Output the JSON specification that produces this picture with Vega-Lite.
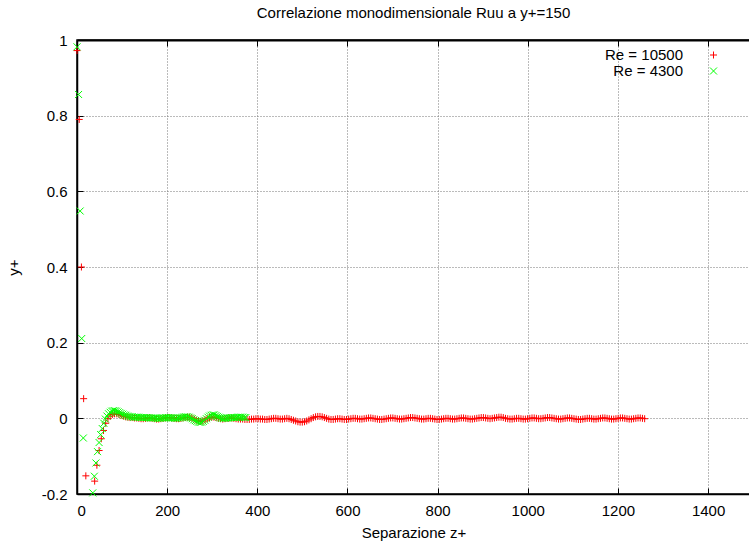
{
  "$schema": "https://vega.github.io/schema/vega-lite/v6.json",
  "width": 673,
  "height": 454,
  "autosize": {"type": "none"},
  "padding": {"left": 77, "top": 40, "right": 0, "bottom": 50},
  "background": "white",
  "config": {
    "font": "Liberation Sans",
    "view": {"stroke": "black", "strokeWidth": 1.5},
    "axis": {"labelFont": "Liberation Sans", "titleFont": "Liberation Sans", "labelColor": "black", "titleColor": "black", "domainColor": "black", "domainWidth": 1.5, "tickColor": "black", "tickWidth": 1, "labelFontSize": 15, "titleFontSize": 15, "titleFontWeight": "normal"}
  },
  "title": {"text": "Correlazione monodimensionale Ruu a y+=150", "fontSize": 15, "fontWeight": "normal", "font": "Liberation Sans", "color": "black", "offset": 12, "frame": "group"},
  "datasets": {
    "d": [
      {"s":"10500","z":0,"r":0.972},{"s":"10500","z":4.9,"r":0.79},{"s":"10500","z":9.8,"r":0.4},{"s":"10500","z":14.7,"r":0.052},{"s":"10500","z":19.6,"r":-0.152},{"s":"10500","z":24.5,"r":-0.245},{"s":"10500","z":29.4,"r":-0.262},{"s":"10500","z":34.3,"r":-0.215},{"s":"10500","z":39.2,"r":-0.166},{"s":"10500","z":44.1,"r":-0.124},
      {"s":"10500","z":49,"r":-0.085},{"s":"10500","z":53.9,"r":-0.054},{"s":"10500","z":58.8,"r":-0.032},{"s":"10500","z":63.7,"r":-0.013},{"s":"10500","z":68.6,"r":-0.001},{"s":"10500","z":73.5,"r":0.006},{"s":"10500","z":78.4,"r":0.01},{"s":"10500","z":83.3,"r":0.012},{"s":"10500","z":88.2,"r":0.012},{"s":"10500","z":93.1,"r":0.01},
      {"s":"10500","z":98,"r":0.008},{"s":"10500","z":102.9,"r":0.006},{"s":"10500","z":107.8,"r":0.004},{"s":"10500","z":112.7,"r":0.003},{"s":"10500","z":117.6,"r":0.002},{"s":"10500","z":122.5,"r":0.002},{"s":"10500","z":127.4,"r":0.001},{"s":"10500","z":132.3,"r":0.001},{"s":"10500","z":137.2,"r":0},{"s":"10500","z":142.1,"r":-0.001},
      {"s":"10500","z":147,"r":-0.001},{"s":"10500","z":151.9,"r":0},{"s":"10500","z":156.8,"r":0.001},{"s":"10500","z":161.7,"r":0.001},{"s":"10500","z":166.6,"r":0},{"s":"10500","z":171.5,"r":-0.001},{"s":"10500","z":176.4,"r":-0.002},{"s":"10500","z":181.3,"r":-0.002},{"s":"10500","z":186.2,"r":-0.001},{"s":"10500","z":191.1,"r":0},
      {"s":"10500","z":196,"r":0.001},{"s":"10500","z":200.9,"r":0.002},{"s":"10500","z":205.8,"r":0.002},{"s":"10500","z":210.7,"r":0.001},{"s":"10500","z":215.6,"r":0},{"s":"10500","z":220.5,"r":-0.001},{"s":"10500","z":225.4,"r":-0.001},{"s":"10500","z":230.3,"r":0},{"s":"10500","z":235.2,"r":0.001},{"s":"10500","z":240.1,"r":0.002},
      {"s":"10500","z":245,"r":0.003},{"s":"10500","z":249.9,"r":0.003},{"s":"10500","z":254.8,"r":0.001},{"s":"10500","z":259.7,"r":-0.002},{"s":"10500","z":264.6,"r":-0.005},{"s":"10500","z":269.5,"r":-0.007},{"s":"10500","z":274.4,"r":-0.008},{"s":"10500","z":279.3,"r":-0.007},{"s":"10500","z":284.2,"r":-0.004},{"s":"10500","z":289.1,"r":-0.001},
      {"s":"10500","z":294,"r":0.002},{"s":"10500","z":298.9,"r":0.003},{"s":"10500","z":303.8,"r":0.003},{"s":"10500","z":308.7,"r":0.002},{"s":"10500","z":313.6,"r":0},{"s":"10500","z":318.5,"r":-0.001},{"s":"10500","z":323.4,"r":-0.002},{"s":"10500","z":328.3,"r":-0.001},{"s":"10500","z":333.2,"r":0},{"s":"10500","z":338.1,"r":0.001},
      {"s":"10500","z":343,"r":0.001},{"s":"10500","z":347.9,"r":0},{"s":"10500","z":352.8,"r":-0.001},{"s":"10500","z":357.7,"r":-0.002},{"s":"10500","z":362.6,"r":-0.002},{"s":"10500","z":367.5,"r":-0.002},{"s":"10500","z":372.4,"r":-0.003},{"s":"10500","z":377.3,"r":-0.003},{"s":"10500","z":382.2,"r":-0.003},{"s":"10500","z":387.1,"r":-0.002},
      {"s":"10500","z":392,"r":-0.002},{"s":"10500","z":396.9,"r":-0.001},{"s":"10500","z":401.8,"r":-0.001},{"s":"10500","z":406.7,"r":-0.002},{"s":"10500","z":411.6,"r":-0.002},{"s":"10500","z":416.5,"r":-0.003},{"s":"10500","z":421.4,"r":-0.003},{"s":"10500","z":426.3,"r":-0.002},{"s":"10500","z":431.2,"r":-0.001},{"s":"10500","z":436.1,"r":0},
      {"s":"10500","z":441,"r":0},{"s":"10500","z":445.9,"r":-0.001},{"s":"10500","z":450.8,"r":-0.002},{"s":"10500","z":455.7,"r":-0.002},{"s":"10500","z":460.6,"r":-0.001},{"s":"10500","z":465.5,"r":0},{"s":"10500","z":470.4,"r":-0.001},{"s":"10500","z":475.3,"r":-0.003},{"s":"10500","z":480.2,"r":-0.005},{"s":"10500","z":485.1,"r":-0.007},
      {"s":"10500","z":490,"r":-0.009},{"s":"10500","z":494.9,"r":-0.01},{"s":"10500","z":499.8,"r":-0.01},{"s":"10500","z":504.7,"r":-0.009},{"s":"10500","z":509.6,"r":-0.007},{"s":"10500","z":514.5,"r":-0.004},{"s":"10500","z":519.4,"r":-0.001},{"s":"10500","z":524.3,"r":0.002},{"s":"10500","z":529.2,"r":0.004},{"s":"10500","z":534.1,"r":0.005},
      {"s":"10500","z":539,"r":0.005},{"s":"10500","z":543.9,"r":0.004},{"s":"10500","z":548.8,"r":0.002},{"s":"10500","z":553.7,"r":0},{"s":"10500","z":558.6,"r":-0.002},{"s":"10500","z":563.5,"r":-0.003},{"s":"10500","z":568.4,"r":-0.003},{"s":"10500","z":573.3,"r":-0.002},{"s":"10500","z":578.2,"r":-0.001},{"s":"10500","z":583.1,"r":-0.001},
      {"s":"10500","z":588,"r":-0.002},{"s":"10500","z":592.9,"r":-0.003},{"s":"10500","z":597.8,"r":-0.003},{"s":"10500","z":602.7,"r":-0.002},{"s":"10500","z":607.6,"r":-0.001},{"s":"10500","z":612.5,"r":0},{"s":"10500","z":617.4,"r":0},{"s":"10500","z":622.3,"r":-0.001},{"s":"10500","z":627.2,"r":-0.002},{"s":"10500","z":632.1,"r":-0.002},
      {"s":"10500","z":637,"r":-0.001},{"s":"10500","z":641.9,"r":0},{"s":"10500","z":646.8,"r":0.001},{"s":"10500","z":651.7,"r":0.001},{"s":"10500","z":656.6,"r":0},{"s":"10500","z":661.5,"r":-0.001},{"s":"10500","z":666.4,"r":-0.002},{"s":"10500","z":671.3,"r":-0.003},{"s":"10500","z":676.2,"r":-0.003},{"s":"10500","z":681.1,"r":-0.002},
      {"s":"10500","z":686,"r":-0.001},{"s":"10500","z":690.9,"r":0},{"s":"10500","z":695.8,"r":0.001},{"s":"10500","z":700.7,"r":0.001},{"s":"10500","z":705.6,"r":0},{"s":"10500","z":710.5,"r":-0.001},{"s":"10500","z":715.4,"r":-0.002},{"s":"10500","z":720.3,"r":-0.002},{"s":"10500","z":725.2,"r":-0.001},{"s":"10500","z":730.1,"r":0},
      {"s":"10500","z":735,"r":0.001},{"s":"10500","z":739.9,"r":0.002},{"s":"10500","z":744.8,"r":0.002},{"s":"10500","z":749.7,"r":0.001},{"s":"10500","z":754.6,"r":0},{"s":"10500","z":759.5,"r":-0.001},{"s":"10500","z":764.4,"r":-0.002},{"s":"10500","z":769.3,"r":-0.002},{"s":"10500","z":774.2,"r":-0.001},{"s":"10500","z":779.1,"r":0},
      {"s":"10500","z":784,"r":0},{"s":"10500","z":788.9,"r":-0.001},{"s":"10500","z":793.8,"r":-0.002},{"s":"10500","z":798.7,"r":-0.003},{"s":"10500","z":803.6,"r":-0.003},{"s":"10500","z":808.5,"r":-0.002},{"s":"10500","z":813.4,"r":-0.001},{"s":"10500","z":818.3,"r":0},{"s":"10500","z":823.2,"r":0},{"s":"10500","z":828.1,"r":-0.001},
      {"s":"10500","z":833,"r":-0.002},{"s":"10500","z":837.9,"r":-0.002},{"s":"10500","z":842.8,"r":-0.001},{"s":"10500","z":847.7,"r":0},{"s":"10500","z":852.6,"r":0.001},{"s":"10500","z":857.5,"r":0.001},{"s":"10500","z":862.4,"r":0},{"s":"10500","z":867.3,"r":-0.001},{"s":"10500","z":872.2,"r":-0.002},{"s":"10500","z":877.1,"r":-0.002},
      {"s":"10500","z":882,"r":-0.001},{"s":"10500","z":886.9,"r":0},{"s":"10500","z":891.8,"r":0.001},{"s":"10500","z":896.7,"r":0.002},{"s":"10500","z":901.6,"r":0.002},{"s":"10500","z":906.5,"r":0.001},{"s":"10500","z":911.4,"r":0},{"s":"10500","z":916.3,"r":-0.001},{"s":"10500","z":921.2,"r":0},{"s":"10500","z":926.1,"r":0.001},
      {"s":"10500","z":931,"r":0.002},{"s":"10500","z":935.9,"r":0.003},{"s":"10500","z":940.8,"r":0.003},{"s":"10500","z":945.7,"r":0.002},{"s":"10500","z":950.6,"r":0},{"s":"10500","z":955.5,"r":-0.001},{"s":"10500","z":960.4,"r":-0.002},{"s":"10500","z":965.3,"r":-0.002},{"s":"10500","z":970.2,"r":-0.001},{"s":"10500","z":975.1,"r":0},
      {"s":"10500","z":980,"r":0},{"s":"10500","z":984.9,"r":-0.001},{"s":"10500","z":989.8,"r":-0.002},{"s":"10500","z":994.7,"r":-0.002},{"s":"10500","z":999.6,"r":-0.001},{"s":"10500","z":1004.5,"r":0},{"s":"10500","z":1009.4,"r":0.001},{"s":"10500","z":1014.3,"r":0.001},{"s":"10500","z":1019.2,"r":0},{"s":"10500","z":1024.1,"r":-0.001},
      {"s":"10500","z":1029,"r":-0.001},{"s":"10500","z":1033.9,"r":0},{"s":"10500","z":1038.8,"r":0.001},{"s":"10500","z":1043.7,"r":0.002},{"s":"10500","z":1048.6,"r":0.002},{"s":"10500","z":1053.5,"r":0.001},{"s":"10500","z":1058.4,"r":0},{"s":"10500","z":1063.3,"r":-0.001},{"s":"10500","z":1068.2,"r":-0.002},{"s":"10500","z":1073.1,"r":-0.002},
      {"s":"10500","z":1078,"r":-0.001},{"s":"10500","z":1082.9,"r":0},{"s":"10500","z":1087.8,"r":0.001},{"s":"10500","z":1092.7,"r":0.001},{"s":"10500","z":1097.6,"r":0},{"s":"10500","z":1102.5,"r":-0.001},{"s":"10500","z":1107.4,"r":-0.002},{"s":"10500","z":1112.3,"r":-0.003},{"s":"10500","z":1117.2,"r":-0.003},{"s":"10500","z":1122.1,"r":-0.002},
      {"s":"10500","z":1127,"r":-0.001},{"s":"10500","z":1131.9,"r":0},{"s":"10500","z":1136.8,"r":0},{"s":"10500","z":1141.7,"r":-0.001},{"s":"10500","z":1146.6,"r":-0.002},{"s":"10500","z":1151.5,"r":-0.002},{"s":"10500","z":1156.4,"r":-0.001},{"s":"10500","z":1161.3,"r":0},{"s":"10500","z":1166.2,"r":0.001},{"s":"10500","z":1171.1,"r":0.001},
      {"s":"10500","z":1176,"r":0},{"s":"10500","z":1180.9,"r":-0.001},{"s":"10500","z":1185.8,"r":-0.002},{"s":"10500","z":1190.7,"r":-0.002},{"s":"10500","z":1195.6,"r":-0.001},{"s":"10500","z":1200.5,"r":0},{"s":"10500","z":1205.4,"r":0.001},{"s":"10500","z":1210.3,"r":0.001},{"s":"10500","z":1215.2,"r":0},{"s":"10500","z":1220.1,"r":-0.001},
      {"s":"10500","z":1225,"r":-0.002},{"s":"10500","z":1229.9,"r":-0.002},{"s":"10500","z":1234.8,"r":-0.001},{"s":"10500","z":1239.7,"r":0},{"s":"10500","z":1244.6,"r":0.001},{"s":"10500","z":1249.5,"r":0.001},{"s":"10500","z":1254.4,"r":0},{"s":"10500","z":1259.3,"r":-0.001},
      {"s":"4300","z":0,"r":0.982},{"s":"4300","z":3.5,"r":0.856},{"s":"4300","z":7,"r":0.548},{"s":"4300","z":10.5,"r":0.211},{"s":"4300","z":14,"r":-0.052},{"s":"4300","z":17.5,"r":-0.21},{"s":"4300","z":21,"r":-0.285},{"s":"4300","z":24.5,"r":-0.3},{"s":"4300","z":28,"r":-0.275},{"s":"4300","z":31.5,"r":-0.235},
      {"s":"4300","z":35,"r":-0.197},{"s":"4300","z":38.5,"r":-0.153},{"s":"4300","z":42,"r":-0.118},{"s":"4300","z":45.5,"r":-0.088},{"s":"4300","z":49,"r":-0.064},{"s":"4300","z":52.5,"r":-0.043},{"s":"4300","z":56,"r":-0.027},{"s":"4300","z":59.5,"r":-0.013},{"s":"4300","z":63,"r":-0.002},{"s":"4300","z":66.5,"r":0.006},
      {"s":"4300","z":70,"r":0.012},{"s":"4300","z":73.5,"r":0.016},{"s":"4300","z":77,"r":0.019},{"s":"4300","z":80.5,"r":0.02},{"s":"4300","z":84,"r":0.02},{"s":"4300","z":87.5,"r":0.019},{"s":"4300","z":91,"r":0.017},{"s":"4300","z":94.5,"r":0.015},{"s":"4300","z":98,"r":0.013},{"s":"4300","z":101.5,"r":0.011},
      {"s":"4300","z":105,"r":0.009},{"s":"4300","z":108.5,"r":0.008},{"s":"4300","z":112,"r":0.006},{"s":"4300","z":115.5,"r":0.005},{"s":"4300","z":119,"r":0.004},{"s":"4300","z":122.5,"r":0.004},{"s":"4300","z":126,"r":0.003},{"s":"4300","z":129.5,"r":0.003},{"s":"4300","z":133,"r":0.003},{"s":"4300","z":136.5,"r":0.003},
      {"s":"4300","z":140,"r":0.002},{"s":"4300","z":143.5,"r":0.002},{"s":"4300","z":147,"r":0.002},{"s":"4300","z":150.5,"r":0.002},{"s":"4300","z":154,"r":0.002},{"s":"4300","z":157.5,"r":0.002},{"s":"4300","z":161,"r":0.001},{"s":"4300","z":164.5,"r":0.001},{"s":"4300","z":168,"r":0.001},{"s":"4300","z":171.5,"r":0.001},
      {"s":"4300","z":175,"r":0.001},{"s":"4300","z":178.5,"r":0},{"s":"4300","z":182,"r":0},{"s":"4300","z":185.5,"r":0},{"s":"4300","z":189,"r":0.001},{"s":"4300","z":192.5,"r":0.001},{"s":"4300","z":196,"r":0.002},{"s":"4300","z":199.5,"r":0.002},{"s":"4300","z":203,"r":0.002},{"s":"4300","z":206.5,"r":0.002},
      {"s":"4300","z":210,"r":0.001},{"s":"4300","z":213.5,"r":0.001},{"s":"4300","z":217,"r":0},{"s":"4300","z":220.5,"r":0},{"s":"4300","z":224,"r":0.001},{"s":"4300","z":227.5,"r":0.001},{"s":"4300","z":231,"r":0.002},{"s":"4300","z":234.5,"r":0.003},{"s":"4300","z":238,"r":0.004},{"s":"4300","z":241.5,"r":0.004},
      {"s":"4300","z":245,"r":0.004},{"s":"4300","z":248.5,"r":0.003},{"s":"4300","z":252,"r":0.001},{"s":"4300","z":255.5,"r":-0.001},{"s":"4300","z":259,"r":-0.004},{"s":"4300","z":262.5,"r":-0.006},{"s":"4300","z":266,"r":-0.008},{"s":"4300","z":269.5,"r":-0.01},{"s":"4300","z":273,"r":-0.011},{"s":"4300","z":276.5,"r":-0.01},
      {"s":"4300","z":280,"r":-0.008},{"s":"4300","z":283.5,"r":-0.005},{"s":"4300","z":287,"r":-0.001},{"s":"4300","z":290.5,"r":0.003},{"s":"4300","z":294,"r":0.006},{"s":"4300","z":297.5,"r":0.008},{"s":"4300","z":301,"r":0.009},{"s":"4300","z":304.5,"r":0.009},{"s":"4300","z":308,"r":0.007},{"s":"4300","z":311.5,"r":0.005},
      {"s":"4300","z":315,"r":0.003},{"s":"4300","z":318.5,"r":0.001},{"s":"4300","z":322,"r":0},{"s":"4300","z":325.5,"r":0},{"s":"4300","z":329,"r":0},{"s":"4300","z":332.5,"r":0.001},{"s":"4300","z":336,"r":0.001},{"s":"4300","z":339.5,"r":0.002},{"s":"4300","z":343,"r":0.002},{"s":"4300","z":346.5,"r":0.002},
      {"s":"4300","z":350,"r":0.002},{"s":"4300","z":353.5,"r":0.002},{"s":"4300","z":357,"r":0.003},{"s":"4300","z":360.5,"r":0.003},{"s":"4300","z":364,"r":0.003},{"s":"4300","z":367.5,"r":0.003},{"s":"4300","z":371,"r":0.002},{"s":"4300","z":374.5,"r":0.002}
    ]
  },
  "data": {"name": "d"},
  "transform": [{"filter": "datum.r >= -0.2"}],
  "encoding": {
    "y": {"field": "r", "type": "quantitative", "scale": {"domain": [-0.2, 1], "nice": false, "zero": false},
      "axis": {"values": [-0.2, 0, 0.2, 0.4, 0.6, 0.8, 1], "format": "~g", "labelExpr": "replace(datum.label, '\u2212', '-')", "tickSize": -6, "labelPadding": 16, "grid": true, "gridColor": "#777777", "gridDash": [1, 2], "gridWidth": 1, "title": "y+", "titlePadding": 20}},
    "color": {"field": "s", "type": "nominal", "scale": {"domain": ["10500", "4300"], "range": ["#ff0000", "#00ff00"]},
      "legend": {"orient": "none", "legendX": 629, "legendY": 7.5, "title": null, "labelAlign": "right", "labelOffset": -38, "labelFontSize": 15, "labelFont": "Liberation Sans", "labelColor": "black", "labelExpr": "'Re = ' + datum.label", "symbolSize": 49, "symbolStrokeWidth": 1, "rowPadding": 0, "padding": 0}},
    "shape": {"field": "s", "type": "nominal", "scale": {"domain": ["10500", "4300"], "range": ["M-1,0L1,0M0,-1L0,1", "M-1,-1L1,1M-1,1L1,-1"]}}
  },
  "layer": [
    {
      "transform": [{"filter": "datum.s == '10500'"}],
      "mark": {"type": "point", "filled": false, "size": 49, "strokeWidth": 1, "opacity": 1},
      "encoding": {
        "x": {"field": "z", "type": "quantitative", "scale": {"domain": [0, 1493], "nice": false, "zero": false},
          "axis": {"orient": "bottom", "values": [0, 200, 400, 600, 800, 1000, 1200, 1400], "format": "d", "tickSize": -6, "labelPadding": 15.5, "grid": true, "gridColor": "#777777", "gridDash": [1, 2], "gridWidth": 1, "title": "Separazione z+", "titlePadding": 7}}
      }
    },
    {
      "transform": [{"filter": "datum.s == '4300'"}],
      "mark": {"type": "point", "filled": false, "size": 49, "strokeWidth": 1, "opacity": 1},
      "encoding": {
        "x": {"field": "z", "type": "quantitative", "scale": {"domain": [0, 1493], "nice": false, "zero": false},
          "axis": {"orient": "top", "values": [0, 200, 400, 600, 800, 1000, 1200, 1400], "tickSize": -6, "labels": false, "grid": false, "title": null, "domain": true, "domainColor": "black", "domainWidth": 2, "zindex": 2}}
      }
    }
  ],
  "resolve": {"scale": {"x": "independent"}, "axis": {"x": "independent"}}
}
